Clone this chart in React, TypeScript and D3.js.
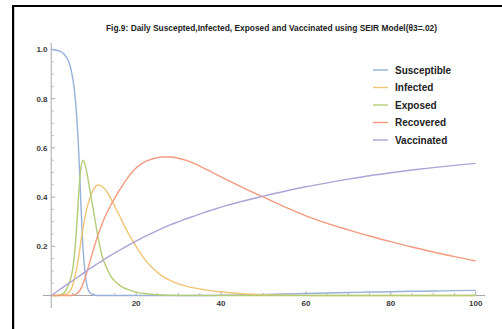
import React from "react";
import * as d3 from "d3";

const days = [0,1,2,3,4,4.5,5,5.5,6,6.5,7,7.5,8,8.5,9,9.5,10,11,12,13,14,15,16,17,18,19,20,22,24,26,28,30,32,34,36,38,40,45,50,55,60,65,70,75,80,85,90,95,100];

const susceptible = [1.0,0.998,0.993,0.982,0.955,0.93,0.89,0.83,0.73,0.58,0.37,0.19,0.09,0.035,0.014,0.006,0.002,0,0,0,0,0,0,0,0,0,0,0,0,0,0,0,0,0,0,0,0.001,0.002,0.004,0.006,0.008,0.01,0.012,0.014,0.015,0.017,0.018,0.02,0.021];

const infected = [0,0,0.001,0.003,0.01,0.02,0.038,0.07,0.11,0.16,0.22,0.275,0.32,0.36,0.39,0.415,0.432,0.449,0.443,0.425,0.395,0.362,0.328,0.292,0.258,0.228,0.2,0.148,0.11,0.081,0.061,0.047,0.037,0.03,0.024,0.019,0.015,0.007,0.003,0.001,0.0005,0,0,0,0,0,0,0,0];

const exposed = [0,0,0.002,0.01,0.04,0.065,0.1,0.17,0.28,0.42,0.52,0.55,0.53,0.49,0.44,0.39,0.34,0.24,0.16,0.115,0.08,0.058,0.043,0.032,0.025,0.019,0.014,0.008,0.004,0.002,0.001,0,0,0,0,0,0,0,0,0,0,0,0,0,0,0,0,0,0];

const recovered = [0,0,0,0,0,0,0.001,0.003,0.007,0.015,0.028,0.048,0.072,0.1,0.13,0.16,0.19,0.245,0.292,0.332,0.366,0.397,0.426,0.453,0.478,0.5,0.518,0.543,0.556,0.563,0.563,0.558,0.548,0.534,0.517,0.5,0.482,0.44,0.4,0.36,0.324,0.293,0.267,0.242,0.219,0.197,0.177,0.158,0.141];

const vaccinated = [0,0.012,0.024,0.036,0.048,0.054,0.06,0.066,0.072,0.078,0.084,0.09,0.096,0.102,0.108,0.113,0.119,0.13,0.141,0.152,0.163,0.173,0.183,0.193,0.203,0.212,0.221,0.239,0.256,0.272,0.287,0.3,0.313,0.325,0.337,0.348,0.359,0.383,0.404,0.424,0.442,0.458,0.473,0.487,0.499,0.51,0.52,0.529,0.537];

const seriesNames = ["Susceptible", "Infected", "Exposed", "Recovered", "Vaccinated"];
const seriesColors = ["#98b1da", "#f1c474", "#b3cd76", "#f49a7e", "#aca4d6"];
const xTicks = [20, 40, 60, 80, 100];
const yTicks = [0.2, 0.4, 0.6, 0.8, 1.0];
const title = "Fig.9: Daily Suscepted,Infected, Exposed and Vaccinated using SEIR Model(\u03B83=.02)";

export default function App() {
  const W = 502, H = 329;
  const x = d3.scaleLinear().domain([0, 100]).range([51.2, 475.7]);
  const y = d3.scaleLinear().domain([0, 1]).range([295.5, 49.5]);
  const allSeries = [susceptible, infected, exposed, recovered, vaccinated];
  const line = d3
    .line<number>()
    .x((_, i) => x(days[i]))
    .y((d) => y(d))
    .curve(d3.curveMonotoneX);

  const xMinor = d3.range(0, 101, 5).filter((v) => v % 20 !== 0);
  const yMinor = d3.range(0, 21).map((v) => v * 0.05).filter((v) => Math.abs(v * 5 - Math.round(v * 5)) > 1e-6);
  const font = "'Liberation Sans', Arial, sans-serif";
  const x0 = x(0), y0 = y(0);

  return (
    <svg width={W} height={H} style={{ position: "absolute", left: 0, top: 0, background: "#fff" }}>
      <rect x={0} y={0} width={W} height={H} fill="#fff" />
      <rect x={12} y={5} width={W - 12} height={2} fill="#000" />
      <rect x={12} y={5} width={2.2} height={H - 5} fill="#000" />
      <text x={271.5} y={31} textAnchor="middle" fontFamily={font} fontWeight="bold" fontSize={8.4} fill="#222">
        {title}
      </text>
      <line x1={43} x2={485} y1={y0} y2={y0} stroke="#a8a8a8" strokeWidth={1} />
      <line x1={x0} x2={x0} y1={43} y2={308} stroke="#a8a8a8" strokeWidth={1} />
      {xTicks.map((t) => (
        <g key={"xt" + t}>
          <line x1={x(t)} x2={x(t)} y1={y0} y2={y0 - 4} stroke="#a8a8a8" />
          <text x={x(t)} y={306} textAnchor="middle" fontFamily={font} fontWeight="bold" fontSize={8} fill="#3a3a3a">
            {t}
          </text>
        </g>
      ))}
      {xMinor.map((t) => (
        <line key={"xm" + t} x1={x(t)} x2={x(t)} y1={y0} y2={y0 - 2.5} stroke="#b8b8b8" />
      ))}
      {yTicks.map((t) => (
        <g key={"yt" + t}>
          <line x1={x0} x2={x0 + 4} y1={y(t)} y2={y(t)} stroke="#a8a8a8" />
          <text x={47.5} y={y(t) + 2.8} textAnchor="end" fontFamily={font} fontWeight="bold" fontSize={8} fill="#3a3a3a">
            {t.toFixed(1)}
          </text>
        </g>
      ))}
      {yMinor.map((t) => (
        <line key={"ym" + t} x1={x0} x2={x0 + 2.5} y1={y(t)} y2={y(t)} stroke="#b8b8b8" />
      ))}
      {allSeries.map((s, i) => (
        <path key={seriesNames[i]} d={line(s) || ""} fill="none" stroke={seriesColors[i]} strokeWidth={1.4} />
      ))}
      {seriesNames.map((n, i) => (
        <g key={"lg" + n}>
          <line x1={373} x2={388} y1={70 + i * 17.5} y2={70 + i * 17.5} stroke={seriesColors[i]} strokeWidth={1.4} />
          <text x={395} y={70 + i * 17.5 + 3.6} fontFamily={font} fontWeight="bold" fontSize={10} fill="#222">
            {n}
          </text>
        </g>
      ))}
    </svg>
  );
}
